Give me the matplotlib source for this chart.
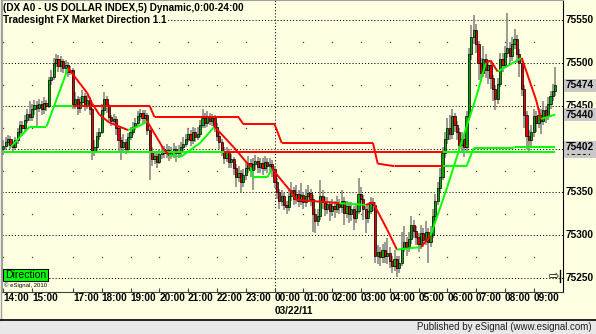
import matplotlib
matplotlib.use('Agg')
import matplotlib.pyplot as plt
from matplotlib.patches import Rectangle
from matplotlib.lines import Line2D

W, H = 596, 334
BG = '#ffffe1'
FONT = 'Liberation Sans'

# 5 minute bars of DX A0, 14:00 -> 09:45
first_open = 75400
close = [75403, 75408, 75412, 75405, 75402, 75410, 75420, 75428, 75424, 75434,
         75441, 75437, 75446, 75451, 75448, 75452, 75446, 75453, 75450, 75480,
         75484, 75500, 75505, 75496, 75502, 75494, 75498, 75490, 75492, 75452,
         75458, 75448, 75455, 75462, 75450, 75457, 75446, 75398, 75402, 75415,
         75420, 75445, 75458, 75450, 75437, 75432, 75435, 75424, 75410, 75402,
         75408, 75400, 75414, 75420, 75426, 75430, 75438, 75442, 75436, 75440,
         75422, 75398, 75388, 75392, 75385, 75394, 75398, 75395, 75399, 75393,
         75396, 75400, 75395, 75398, 75402, 75406, 75412, 75418, 75410, 75420,
         75414, 75418, 75428, 75436, 75430, 75438, 75433, 75436, 75426, 75415,
         75408, 75398, 75390, 75396, 75385, 75388, 75378, 75368, 75372, 75362,
         75370, 75378, 75384, 75376, 75382, 75386, 75379, 75384, 75378, 75385,
         75380, 75383, 75377, 75362, 75350, 75340, 75345, 75335, 75332, 75345,
         75352, 75342, 75348, 75340, 75346, 75338, 75345, 75349, 75342, 75325,
         75316, 75322, 75345, 75338, 75330, 75336, 75328, 75334, 75330, 75336,
         75332, 75340, 75326, 75334, 75324, 75330, 75320, 75328, 75348, 75342,
         75330, 75320, 75328, 75338, 75335, 75276, 75280, 75274, 75282, 75276,
         75279, 75270, 75264, 75272, 75262, 75268, 75285, 75292, 75286, 75295,
         75312, 75305, 75298, 75290, 75302, 75294, 75304, 75292, 75300, 75322,
         75340, 75355, 75368, 75395, 75412, 75425, 75418, 75438, 75428, 75420,
         75405, 75412, 75402, 75438, 75510, 75530, 75538, 75522, 75500, 75488,
         75505, 75492, 75498, 75482, 75470, 75458, 75476, 75505, 75498, 75512,
         75518, 75508, 75522, 75528, 75510, 75500, 75470, 75440, 75415, 75410,
         75420, 75438, 75430, 75440, 75432, 75445, 75438, 75452, 75462, 75468,
         75474]
high = [75410, 75414, 75416, 75415, 75409, 75414, 75424, 75433, 75432, 75440,
        75447, 75456, 75452, 75457, 75456, 75458, 75456, 75460, 75457, 75484,
        75492, 75506, 75511, 75509, 75508, 75505, 75503, 75501, 75497, 75494,
        75466, 75462, 75460, 75469, 75465, 75463, 75460, 75448, 75410, 75420,
        75425, 75452, 75466, 75462, 75452, 75440, 75441, 75438, 75427, 75414,
        75418, 75412, 75419, 75426, 75431, 75436, 75444, 75446, 75445, 75445,
        75442, 75425, 75402, 75398, 75396, 75400, 75404, 75403, 75406, 75404,
        75402, 75407, 75404, 75405, 75408, 75414, 75418, 75425, 75422, 75426,
        75424, 75426, 75434, 75447, 75442, 75444, 75442, 75441, 75439, 75430,
        75420, 75412, 75402, 75402, 75400, 75394, 75391, 75382, 75380, 75376,
        75377, 75385, 75392, 75388, 75390, 75393, 75391, 75390, 75389, 75392,
        75390, 75389, 75387, 75380, 75366, 75354, 75352, 75349, 75340, 75352,
        75362, 75356, 75358, 75352, 75360, 75350, 75354, 75358, 75354, 75346,
        75330, 75330, 75364, 75352, 75344, 75344, 75340, 75342, 75340, 75345,
        75342, 75352, 75344, 75340, 75338, 75338, 75334, 75336, 75366, 75356,
        75346, 75334, 75336, 75344, 75343, 75338, 75288, 75286, 75290, 75292,
        75296, 75286, 75276, 75282, 75276, 75276, 75304, 75310, 75298, 75304,
        75322, 75318, 75310, 75302, 75312, 75308, 75316, 75308, 75310, 75330,
        75348, 75362, 75378, 75402, 75420, 75436, 75440, 75447, 75442, 75432,
        75424, 75420, 75416, 75444, 75518, 75544, 75556, 75545, 75526, 75506,
        75520, 75510, 75504, 75502, 75486, 75474, 75482, 75512, 75512, 75520,
        75558, 75524, 75530, 75540, 75532, 75516, 75504, 75474, 75444, 75422,
        75428, 75446, 75444, 75448, 75446, 75456, 75450, 75460, 75468, 75476,
        75495]
low = [75393, 75400, 75404, 75400, 75396, 75399, 75406, 75416, 75418, 75420,
       75430, 75432, 75433, 75440, 75426, 75443, 75440, 75441, 75444, 75448,
       75474, 75480, 75495, 75490, 75490, 75488, 75488, 75484, 75486, 75446,
       75446, 75440, 75442, 75450, 75444, 75446, 75440, 75387, 75392, 75396,
       75410, 75418, 75440, 75442, 75432, 75427, 75428, 75416, 75395, 75387,
       75398, 75394, 75397, 75410, 75416, 75422, 75426, 75433, 75430, 75430,
       75416, 75364, 75380, 75382, 75378, 75382, 75388, 75389, 75390, 75386,
       75388, 75390, 75385, 75390, 75392, 75398, 75402, 75408, 75404, 75406,
       75408, 75410, 75414, 75424, 75424, 75426, 75428, 75427, 75420, 75409,
       75400, 75392, 75382, 75385, 75378, 75378, 75370, 75356, 75362, 75349,
       75356, 75364, 75372, 75368, 75352, 75376, 75372, 75372, 75370, 75374,
       75372, 75375, 75368, 75355, 75342, 75330, 75334, 75329, 75325, 75328,
       75340, 75335, 75336, 75332, 75335, 75330, 75332, 75338, 75334, 75304,
       75302, 75310, 75318, 75330, 75322, 75324, 75316, 75322, 75320, 75326,
       75324, 75326, 75312, 75320, 75314, 75316, 75306, 75314, 75324, 75334,
       75318, 75302, 75314, 75324, 75328, 75268, 75266, 75264, 75268, 75268,
       75266, 75262, 75256, 75258, 75251, 75256, 75264, 75280, 75276, 75280,
       75290, 75296, 75288, 75280, 75284, 75286, 75288, 75267, 75286, 75296,
       75318, 75335, 75350, 75364, 75390, 75406, 75410, 75412, 75420, 75410,
       75396, 75398, 75391, 75398, 75434, 75504, 75522, 75512, 75480, 75478,
       75484, 75482, 75476, 75470, 75456, 75445, 75452, 75472, 75490, 75494,
       75506, 75500, 75502, 75516, 75500, 75484, 75462, 75424, 75400, 75395,
       75404, 75414, 75420, 75424, 75418, 75428, 75430, 75434, 75446, 75456,
       75462]

# time axis (bar index of each hour)
tick_bars = [0, 12, 29, 41, 53, 65, 77, 89, 101, 113, 125, 137, 149, 161,
             173, 185, 197, 209, 221]
tick_labels = ['14:00', '15:00', '17:00', '18:00', '19:00', '20:00', '21:00',
               '22:00', '23:00', '00:00', '01:00', '02:00', '03:00', '04:00',
               '05:00', '06:00', '07:00', '08:00', '09:00']
day_break = 113
date_label = '03/22/11'
price_ticks = [75250, 75300, 75350, 75400, 75450, 75500, 75550]

# Market Direction study: breakpoints and state (1 = up/green, -1 = down/red)
fast_bar = [3, 7, 11, 18, 27, 35, 37, 40, 44, 52, 56, 60, 67, 69, 74, 78, 82,
            88, 96, 103, 104, 110, 112, 117, 120, 122, 140, 151, 154, 160, 164,
            174, 178, 185, 189, 193, 197, 201, 203, 206, 216, 222, 224, 230]
fast_val = [75402, 75414, 75426, 75426, 75494, 75465, 75453, 75440, 75431,
            75422, 75426, 75432, 75399, 75393, 75391, 75399, 75407, 75426,
            75402, 75379, 75367, 75367, 75377, 75360, 75350, 75341, 75337,
            75335, 75338, 75306, 75283, 75286, 75299, 75356, 75391, 75426,
            75460, 75500, 75503, 75490, 75506, 75457, 75435, 75440]
fast_dir = [1, 1, 1, 1, -1, -1, -1, -1, -1, 1, 1, -1, -1, 1, 1, 1, 1, -1, -1, 1,
            1, 1, -1, -1, -1, -1, 1, -1, -1, -1, 1, -1, 1, 1, 1, 1, 1, -1, -1, 1,
            -1, -1, 1]

level_bar = [21, 29, 61, 63, 98, 100, 113, 116, 154, 156, 163, 183, 193, 196,
             212, 213, 230]
level_val = [75450, 75450, 75450, 75437, 75437, 75429, 75429, 75407, 75407,
             75383, 75380, 75380, 75380, 75401, 75401, 75402, 75402]
level_dir = [1, -1, -1, -1, -1, -1, -1, -1, -1, -1, -1, 1, 1, 1, 1, 1]

base_bar = [0, 92, 183, 230]
base_val = [75397, 75397, 75397, 75397]
base_dir = [1, -1, 1]

# last-value markers on the price scale, drawn in this order
last_marks = [75397, 75402, 75474, 75440]

fig = plt.figure(figsize=(W / 100, H / 100), dpi=100)
fig.patch.set_facecolor(BG)

# price pane: 0.86 px per point, 75550 sits 20 px below the top
ax = fig.add_axes([2 / W, 1 - 292 / H, 561 / W, 292 / H])
ax.set_facecolor(BG)
ax.set_xlim(-0.54, 233.2)
ax.set_ylim(75550 - 272 / 0.86, 75550 + 20 / 0.86)

for p in price_ticks:
    ax.axhline(p, color='black', lw=0.75, ls=(0, (1, 2)), zorder=1)
ax.axvline(day_break, color='black', lw=0.75, ls=(0, (1, 2)), zorder=1)
# faint dots between the dotted levels
dx, dy = [], []
for b in tick_bars:
    if b == day_break:
        continue
    for p in price_ticks[:-1]:
        dx.append(b)
        dy.append(p + 25)
ax.plot(dx, dy, ls='none', marker='s', ms=0.9, mew=0, color='#444444', zorder=1)

# candles
opens = [first_open] + close[:-1]
xs = list(range(len(close)))
hi = [max(h, o, c) for h, o, c in zip(high, opens, close)]
lo = [min(l, o, c) for l, o, c in zip(low, opens, close)]
ax.vlines(xs, lo, hi, color='#808080', lw=1.1, zorder=3)
bottoms = [min(o, c) for o, c in zip(opens, close)]
heights = [max(abs(c - o), 0.8) for o, c in zip(opens, close)]
colors = ['#00a800' if c > o else '#e00000' for o, c in zip(opens, close)]
ax.bar(xs, heights, 0.85, bottom=bottoms, color=colors, edgecolor='black',
       linewidth=0.5, zorder=4)


def draw_study(bars, vals, dirs, lw=1.4):
    for k in range(len(dirs)):
        col = '#00ff00' if dirs[k] > 0 else '#ff0000'
        ax.plot(bars[k:k + 2], vals[k:k + 2], color=col, lw=lw,
                solid_capstyle='butt', zorder=5)


draw_study(base_bar, base_val, base_dir)
draw_study(level_bar, level_val, level_dir)
draw_study(fast_bar, fast_val, fast_dir)

ax.set_yticks([])
ax.set_xticks(tick_bars)
ax.tick_params(axis='x', direction='in', length=3, width=0.8, color='#404040',
               labelbottom=False)
for s in ['left', 'top']:
    ax.spines[s].set_color('#a0a0a0')
ax.spines['right'].set_color('black')
ax.spines['bottom'].set_color('#404040')

# x labels, left aligned at the tick
xt = ax.get_xaxis_transform()
for b, lab in zip(tick_bars, tick_labels):
    ax.text(b, -6 / 292, lab, transform=xt, ha='left', va='center',
            fontsize=7.2, fontweight='bold', family=FONT, clip_on=False)
ax.text(day_break, -19 / 292, date_label, transform=xt, ha='left',
        va='center', fontsize=7.2, fontweight='bold', family=FONT, clip_on=False)

# y labels on the right
yt = ax.get_yaxis_transform()
for p in price_ticks:
    ax.text(1.004, p, str(p), transform=yt, ha='left', va='center',
            fontsize=7.2, fontweight='bold', family=FONT, clip_on=False)
for k, v in enumerate(last_marks):
    ax.add_patch(Rectangle((1.001, v - 6.5 / 0.86), 33 / 561, 13 / 0.86,
                           transform=yt, facecolor='#c8c8c8', edgecolor='none',
                           clip_on=False, zorder=6 + 2 * k))
    ax.text(1.004, v, str(v), transform=yt, ha='left', va='center',
            fontsize=7.2, fontweight='bold', family=FONT, clip_on=False,
            zorder=7 + 2 * k)


def px(x, y):
    return x / W, 1 - y / H


fig.text(*px(3, 8), '(DX A0 - US DOLLAR INDEX,5) Dynamic,0:00-24:00',
         ha='left', va='center', fontsize=7.2, fontweight='bold', family=FONT,
         bbox=dict(facecolor=BG, edgecolor='none', pad=0.3))
fig.text(*px(3, 20), 'Tradesight FX Market Direction 1.1', ha='left',
         va='center', fontsize=7.2, fontweight='bold', family=FONT,
         bbox=dict(facecolor=BG, edgecolor='none', pad=0.3))

# Direction button and small copyright
fig.patches.append(Rectangle(px(3, 281), 45 / W, 12 / H, transform=fig.transFigure,
                             facecolor='#00ff00', edgecolor='black', lw=0.8))
fig.text(*px(25.5, 275), 'Direction', ha='center', va='center', fontsize=7.5,
         family=FONT)
fig.text(*px(4, 285.5), '\u00a9 eSignal, 2010', ha='left', va='center',
         fontsize=4.3, family=FONT)

# scroll-to-end icon
fig.text(*px(554, 276), '\u21e8', ha='center', va='center', fontsize=9,
         family='DejaVu Sans')
fig.lines.append(Line2D([560 / W, 560 / W], [1 - 270 / H, 1 - 282 / H],
                        transform=fig.transFigure, color='black', lw=1))

# frame and status bar
fig.lines.append(Line2D([1 / W, 1 / W], [1 - 320 / H, 1], transform=fig.transFigure,
                        color='#a0a0a0', lw=1))
fig.patches.append(Rectangle((0, 0), 1, 14 / H, transform=fig.transFigure,
                             facecolor='#e8e8e8', edgecolor='none'))
fig.lines.append(Line2D([0, 1], [1 - 320 / H, 1 - 320 / H], transform=fig.transFigure,
                        color='black', lw=1.2))
fig.text(*px(592, 327), 'Published by eSignal (www.esignal.com)', ha='right',
         va='center', fontsize=7, family=FONT, color='#202020')

fig.savefig('out.png', dpi=100, facecolor=BG)
plt.close(fig)
